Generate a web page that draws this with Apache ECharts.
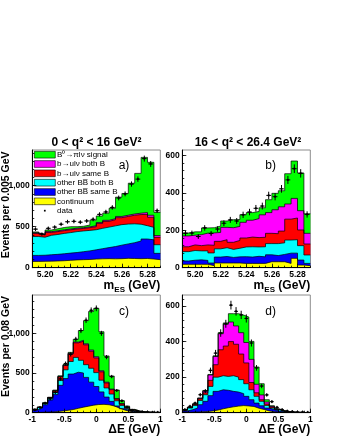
<!DOCTYPE html>
<html><head><meta charset="utf-8">
<script src="https://cdn.jsdelivr.net/npm/echarts@6/dist/echarts.min.js"></script>
<style>html,body{margin:0;padding:0;background:#fff}#c{width:337px;height:436px}</style>
</head><body><div id="c"></div>
<script>
// ---- bins ----
const mesBins = [5.1925,5.1975,5.2025,5.2075,5.2125,5.2175,5.2225,5.2275,5.2325,5.2375,5.2425,5.2475,5.2525,5.2575,5.2625,5.2675,5.2725,5.2775,5.2825,5.2875];
const mesBinWidth = 0.005;
const deBins = [-0.96,-0.88,-0.80,-0.72,-0.64,-0.56,-0.48,-0.40,-0.32,-0.24,-0.16,-0.08,0,0.08,0.16,0.24,0.32,0.40,0.48,0.56,0.64,0.72,0.80,0.88,0.96];
const deBinWidth = 0.08;

// ---- tick labels ----
const mesTicks = [5.20,5.22,5.24,5.26,5.28];
const deTicks = [-1,-0.5,0,0.5,1];
const aYTicks = [0,500,1000];
const bYTicks = [0,200,400,600];
const cYTicks = [0,500,1000];
const dYTicks = [0,200,400,600];

// ---- panel a: 0 < q2 < 16, mES ----
const aContinuum = [77,78,80,82,85,90,95,98,100,105,108,110,108,110,114,112,110,112,106,98];
const aBBsame    = [73,74,78,81,85,88,90,97,105,113,124,135,150,165,176,193,215,238,234,77];
const aBBboth    = [230,220,237,242,248,250,255,253,250,245,248,250,252,250,242,230,205,162,152,105];
const aUlvSame   = [38,26,35,35,34,34,32,30,33,37,60,70,75,85,93,105,118,138,123,90];
const aUlvBoth   = [8,6,10,10,10,10,10,10,10,12,12,13,13,15,15,15,17,22,25,22];
const aSignal    = [10,6,20,25,28,28,18,17,22,68,78,87,127,235,265,375,485,673,645,283];
const aData      = [470,410,480,495,530,560,565,555,570,590,650,680,735,850,900,1020,1080,1330,1265,695];

// ---- panel b: 16 < q2 < 26.4, mES ----
const bContinuum = [18,18,18,18,11,25,25,25,25,23,23,23,23,32,32,32,23,50,14,11];
const bBBsame    = [18,22,24,21,14,32,35,30,33,36,34,38,35,37,33,39,55,28,27,12];
const bBBboth    = [50,52,48,51,54,44,47,43,46,52,55,50,54,60,64,62,70,72,77,45];
const bUlvSame   = [26,30,28,32,41,40,43,38,42,48,52,50,51,55,53,63,112,116,84,59];
const bUlvBoth   = [58,52,59,63,66,48,66,78,75,84,90,102,120,111,128,130,81,105,103,57];
const bSignal    = [16,18,15,28,28,34,34,43,37,41,41,38,38,69,88,86,162,200,202,105];
const bData      = [184,185,167,213,183,207,238,256,250,283,298,318,330,387,380,422,470,530,505,285];

// ---- panel c: 0 < q2 < 16, deltaE ----
const cContinuum = [3,5,8,10,15,22,30,40,55,70,82,95,103,105,100,85,60,35,18,8,4,2,1,1,0];
const cBBsame    = [31,53,92,150,213,323,400,447,455,430,363,290,227,157,97,58,25,15,11,8,4,2,1,1,1];
const cBBboth    = [6,8,15,22,27,60,110,158,187,160,160,175,175,148,115,92,65,42,26,13,7,4,3,1,1];
const cUlvSame   = [2,3,5,8,20,47,55,95,183,240,250,215,185,105,63,55,22,18,12,7,3,2,1,1,1];
const cUlvBoth   = [0,1,1,1,2,4,5,8,10,12,13,15,15,13,10,8,6,4,3,2,1,0,0,0,0];
const cSignal    = [2,2,5,4,8,9,7,12,35,123,292,485,610,492,330,164,108,37,14,4,2,3,2,1,1];
const cData      = [35,65,120,175,255,425,620,735,925,1035,1165,1290,1315,1000,700,455,280,150,70,30,18,10,8,5,4];

// ---- panel d: 16 < q2 < 26.4, deltaE ----
const dContinuum = [2,3,4,5,7,10,15,22,28,33,37,40,38,35,25,18,10,6,3,2,1,1,0,0,0];
const dBBsame    = [7,14,22,40,57,86,105,107,98,87,79,67,54,38,29,21,16,11,6,4,2,1,1,0,0];
const dBBboth    = [4,9,15,24,37,52,80,79,78,88,84,79,71,56,38,25,15,9,8,3,1,0,0,1,1];
const dUlvSame   = [2,3,6,9,11,34,70,146,171,192,185,144,117,41,20,9,8,6,1,1,1,1,1,0,0];
const dUlvBoth   = [1,1,2,3,10,30,46,90,123,110,103,120,115,130,48,27,11,4,2,0,0,0,0,0,0];
const dSignal    = [2,2,1,2,3,3,4,6,7,47,69,99,143,101,97,63,13,3,1,1,1,0,0,0,0];
const dData      = [17,36,54,101,122,238,335,448,500,605,570,550,530,392,252,150,100,62,30,17,9,6,4,4,2];

// ---- names / colours (bottom to top) ----
const layerNames  = ['continuum','other BB\u0305 same B','other BB\u0305 both B','b\u2192ul\u03bd same B','b\u2192ul\u03bd both B','B\u2070\u2192\u03c0l\u03bd signal'];
const layerColors = ['#ffff00','#0000ff','#00ffff','#ff0000','#ff00ff','#00ff00'];

const FONT = '"Liberation Sans", Arial, Helvetica, sans-serif';

function range(step, max){ const r=[]; for(let v=step; v<=max+1e-9; v+=step) r.push(+v.toFixed(4)); return r; }
function rangeFrom(a, b, step){ const r=[]; for(let v=a; v<=b+1e-9; v+=step) r.push(+v.toFixed(4)); return r; }

const panels = [
  {left:32.3, top:150, bins:mesBins, w:mesBinWidth, xmin:5.19, xmax:5.29, xTicks:mesTicks, xMinor:rangeFrom(5.19,5.29,0.005), fmt:v=>v.toFixed(2),
   ymax:1435, yTicks:aYTicks, yMinor:range(100,1435), layers:[aContinuum,aBBsame,aBBboth,aUlvSame,aUlvBoth,aSignal], data:aData},
  {left:182.3, top:150, bins:mesBins, w:mesBinWidth, xmin:5.19, xmax:5.29, xTicks:mesTicks, xMinor:rangeFrom(5.19,5.29,0.005), fmt:v=>v.toFixed(2),
   ymax:630, yTicks:bYTicks, yMinor:range(40,630), layers:[bContinuum,bBBsame,bBBboth,bUlvSame,bUlvBoth,bSignal], data:bData},
  {left:32.3, top:295, bins:deBins, w:deBinWidth, xmin:-1, xmax:1, xTicks:deTicks, xMinor:rangeFrom(-1,1,0.1), fmt:v=>String(v),
   ymax:1483, yTicks:cYTicks, yMinor:range(100,1483), layers:[cContinuum,cBBsame,cBBboth,cUlvSame,cUlvBoth,cSignal], data:cData},
  {left:182.3, top:295, bins:deBins, w:deBinWidth, xmin:-1, xmax:1, xTicks:deTicks, xMinor:rangeFrom(-1,1,0.1), fmt:v=>String(v),
   ymax:662, yTicks:dYTicks, yMinor:range(40,662), layers:[dContinuum,dBBsame,dBBboth,dUlvSame,dUlvBoth,dSignal], data:dData}
];

const grid=[], xAxis=[], yAxis=[], series=[];
const labelStyle = {fontSize:8.5, fontWeight:'bold', fontFamily:FONT, color:'#000'};

panels.forEach((p,i)=>{
  grid.push({left:p.left, top:p.top, width:128, height:117.7, show:true, borderColor:'#8c8c8c', borderWidth:1, backgroundColor:'#fff'});
  xAxis.push({gridIndex:i, type:'value', min:p.xmin, max:p.xmax, position:'bottom', z:6,
    axisLine:{show:true, onZero:false, lineStyle:{color:'#000', width:1}},
    axisTick:{show:true, inside:true, length:4, customValues:p.xTicks, lineStyle:{color:'#000', width:0.8}},
    axisLabel:Object.assign({customValues:p.xTicks, formatter:p.fmt, margin:2.5, showMinLabel:true, showMaxLabel:true, hideOverlap:false}, labelStyle),
    splitLine:{show:false}});
  xAxis.push({gridIndex:i, type:'value', min:p.xmin, max:p.xmax, position:'bottom', z:6,
    axisLine:{show:false, onZero:false},
    axisTick:{show:true, inside:true, length:2, customValues:p.xMinor, lineStyle:{color:'#000', width:0.8}},
    axisLabel:{show:false}, splitLine:{show:false}});
  yAxis.push({gridIndex:i, type:'value', min:0, max:p.ymax, position:'left', z:6,
    axisLine:{show:true, onZero:false, lineStyle:{color:'#000', width:1}},
    axisTick:{show:true, inside:true, length:4, customValues:p.yTicks, lineStyle:{color:'#000', width:0.8}},
    axisLabel:Object.assign({customValues:p.yTicks, margin:2.5, showMinLabel:true}, labelStyle),
    splitLine:{show:false}});
  yAxis.push({gridIndex:i, type:'value', min:0, max:p.ymax, position:'left', z:6,
    axisLine:{show:false, onZero:false},
    axisTick:{show:true, inside:true, length:2, customValues:p.yMinor, lineStyle:{color:'#000', width:0.8}},
    axisLabel:{show:false}, splitLine:{show:false}});

  // cumulative stack (bottom -> top), drawn top layer first so lower layers paint over it
  const cum = [];
  let run = p.bins.map(()=>0);
  p.layers.forEach(vals=>{ run = run.map((r,j)=>r+vals[j]); cum.push(run); });
  for (let k = cum.length-1; k >= 0; k--) {
    const vals = cum[k];
    const pts = p.bins.map((c,j)=>[c - p.w/2, vals[j]]);
    pts.push([p.bins[p.bins.length-1] + p.w/2, vals[vals.length-1]]);
    series.push({type:'line', name:layerNames[k], xAxisIndex:2*i, yAxisIndex:2*i, step:'end',
      symbol:'none', showSymbol:false, data:pts, clip:true, z:2,
      lineStyle:{color:'#000', width:0.7}, itemStyle:{color:layerColors[k]},
      areaStyle:{color:layerColors[k], opacity:1}, emphasis:{disabled:true}});
  }

  const binW = p.w;
  series.push({type:'custom', name:'data', xAxisIndex:2*i, yAxisIndex:2*i, z:5, clip:true,
    data:p.bins.map((c,j)=>[c, p.data[j]]),
    renderItem:function(params, api){
      const x = api.value(0), y = api.value(1);
      const pt = api.coord([x,y]);
      const e = Math.sqrt(y);
      const t = api.coord([x, y+e]), b = api.coord([x, Math.max(0,y-e)]);
      const hw = api.size([binW,0])[0]*0.37;
      return {type:'group', children:[
        {type:'line', shape:{x1:pt[0]-hw, y1:pt[1], x2:pt[0]+hw, y2:pt[1]}, style:{stroke:'#000', lineWidth:1}},
        {type:'line', shape:{x1:pt[0], y1:Math.min(t[1],pt[1]-1.5), x2:pt[0], y2:Math.max(b[1],pt[1]+1.5)}, style:{stroke:'#000', lineWidth:1}},
        {type:'circle', shape:{cx:pt[0], cy:pt[1], r:1.1}, style:{fill:'#000'}}
      ]};
    }});
});

const legendData = [5,4,3,2,1,0].map(k=>({name:layerNames[k], icon:'rect',
  itemStyle:{color:layerColors[k], borderColor:'#000', borderWidth:0.6}}));
legendData.push({name:'data', icon:'path://M0,0M21,7M9.6,2.6L11.4,2.6L11.4,4.4L9.6,4.4Z', itemStyle:{color:'#000', borderWidth:0}});

function txt(x,y,text,opt){
  return Object.assign({type:'text', x:x, y:y, z:10, style:Object.assign({text:text, fill:'#000', font:'12px '+FONT,
    textAlign:'center', align:'center', textVerticalAlign:'middle', verticalAlign:'middle'}, opt||{})});
}
const subRich = {m:{fontSize:12, fontWeight:'bold', fontFamily:FONT, fill:'#000'}, s:{fontSize:8, fontWeight:'bold', fontFamily:FONT, fill:'#000', padding:[7,0,0,0]}};

const graphic = [
  txt(96.5,142.7,'0 < q\u00b2 < 16 GeV\u00b2',{font:'bold 12px '+FONT}),
  txt(248,142.7,'16 < q\u00b2 < 26.4 GeV\u00b2',{font:'bold 12px '+FONT}),
  txt(124,165.5,'a)'), txt(270.7,165.5,'b)'), txt(124,311.7,'c)'), txt(270.7,311.7,'d)'),
  txt(160.3,286,'{m|m}{s|ES}{m| (GeV)}',{textAlign:'right', align:'right', rich:subRich}),
  txt(310.3,286,'{m|m}{s|ES}{m| (GeV)}',{textAlign:'right', align:'right', rich:subRich}),
  txt(160.3,430,'\u0394E (GeV)',{textAlign:'right', align:'right', font:'bold 12px '+FONT}),
  txt(310.3,430,'\u0394E (GeV)',{textAlign:'right', align:'right', font:'bold 12px '+FONT}),
  Object.assign(txt(6,151.5,'Events per 0.005 GeV',{textAlign:'right', align:'right', font:'bold 10.5px '+FONT}),{rotation:Math.PI/2}),
  Object.assign(txt(6,296,'Events per 0.08 GeV',{textAlign:'right', align:'right', font:'bold 10.5px '+FONT}),{rotation:Math.PI/2})
];

const chart = echarts.init(document.getElementById('c'), null, {renderer:'canvas', width:337, height:436});
chart.setOption({
  animation:false,
  backgroundColor:'#fff',
  grid:grid, xAxis:xAxis, yAxis:yAxis, series:series,
  legend:{data:legendData, orient:'vertical', left:34, top:150.7, itemWidth:21, itemHeight:6.7, itemGap:1.33,
    selectedMode:false, padding:0, textStyle:{fontSize:8, lineHeight:8, fontFamily:FONT, color:'#000', padding:[0,0,0,-3.3]}},
  graphic:graphic
});
</script></body></html>
